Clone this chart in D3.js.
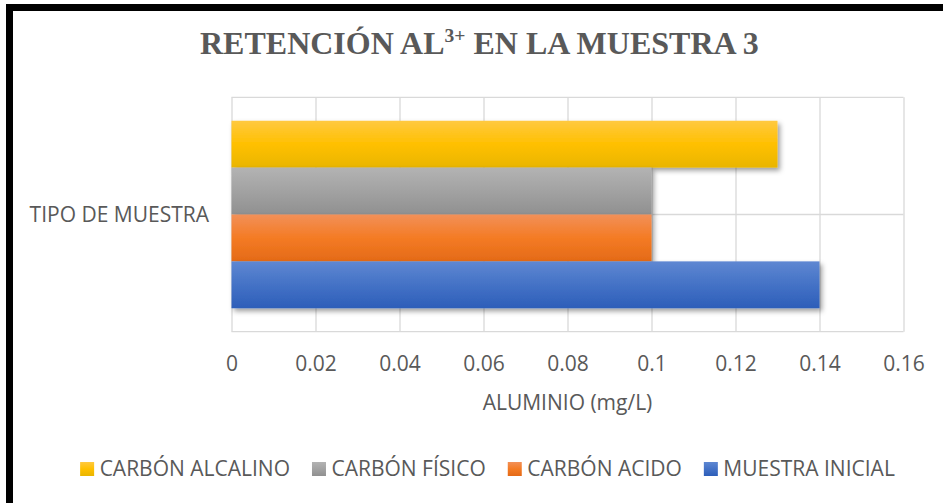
<!DOCTYPE html>
<html>
<head>
<meta charset="utf-8">
<script src="https://cdn.jsdelivr.net/npm/d3@7"></script>
<style>
  html, body { margin: 0; padding: 0; background: #fff; overflow: hidden; }
  svg { display: block; }
</style>
</head>
<body>
<svg id="chart" width="943" height="503"></svg>
<script>
// ---- data ----
const categories = ["TIPO DE MUESTRA"];
const seriesNames = ["CARBÓN ALCALINO", "CARBÓN FÍSICO", "CARBÓN ACIDO", "MUESTRA INICIAL"];
const seriesValues = [0.13, 0.10, 0.10, 0.14];
const xTicks = [0, 0.02, 0.04, 0.06, 0.08, 0.10, 0.12, 0.14, 0.16];
const xTickLabels = ["0", "0.02", "0.04", "0.06", "0.08", "0.1", "0.12", "0.14", "0.16"];
const titleMain = "RETENCIÓN AL";
const titleSup = "3+";
const titleRest = " EN LA MUESTRA 3";
const xAxisTitle = "ALUMINIO (mg/L)";

// ---- styles ----
const gradients = [
  ["#FFC940", "#FFC000", "#E9B500"],
  ["#B3B3B3", "#A2A2A2", "#909090"],
  ["#F29058", "#F47B24", "#E46A17"],
  ["#5E87D2", "#4472C6", "#2D5EB9"]
];
const textColor = "#595959";
const gridColor = "#D9D9D9";
const sansFont = "'Open Sans', sans-serif";

const svg = d3.select("#chart");
const defs = svg.append("defs");
gradients.forEach((g, i) => {
  const lg = defs.append("linearGradient").attr("id", "grad" + i)
    .attr("x1", 0).attr("y1", 0).attr("x2", 0).attr("y2", 1);
  lg.append("stop").attr("offset", "0%").attr("stop-color", g[0]);
  lg.append("stop").attr("offset", "50%").attr("stop-color", g[1]);
  lg.append("stop").attr("offset", "100%").attr("stop-color", g[2]);
});
const f = defs.append("filter").attr("id", "shadow")
  .attr("x", "-5%").attr("y", "-20%").attr("width", "115%").attr("height", "160%");
f.append("feDropShadow").attr("dx", 2.5).attr("dy", 3).attr("stdDeviation", 2.5)
  .attr("flood-color", "#000").attr("flood-opacity", 0.38);

// border (cropped frame)
svg.append("rect").attr("x", 9.5).attr("y", 7.5).attr("width", 1200).attr("height", 1200)
  .attr("fill", "none").attr("stroke", "#000").attr("stroke-width", 7);

// layout
const plotLeft = 231.5, plotRight = 903.5, plotTop = 97.3, plotBottom = 331.7;

const x = d3.scaleLinear().domain([0, 0.16]).range([plotLeft, plotRight]);
const y0 = d3.scaleBand().domain(categories).range([plotTop, plotBottom]).padding(0);
const y1 = d3.scaleBand().domain(seriesNames).range([0, y0.bandwidth()])
  .paddingInner(0).paddingOuter(0.5);

// vertical gridlines
const grid = svg.append("g").attr("transform", `translate(0,${plotBottom})`)
  .call(d3.axisBottom(x).tickValues(xTicks).tickSize(-(plotBottom - plotTop)).tickFormat(""));
grid.select(".domain").remove();
grid.selectAll("line").attr("stroke", gridColor).attr("stroke-width", 1.3);

// horizontal gridlines (category boundaries and centre)
const hLines = [plotTop, (plotTop + plotBottom) / 2, plotBottom];
svg.append("g").selectAll("line").data(hLines).join("line")
  .attr("x1", plotLeft).attr("x2", plotRight)
  .attr("y1", d => d).attr("y2", d => d)
  .attr("stroke", gridColor).attr("stroke-width", 1.3);

// bars
const barsG = svg.append("g");
categories.forEach(cat => {
  seriesNames.forEach((s, i) => {
    barsG.append("rect")
      .attr("x", x(0))
      .attr("y", y0(cat) + y1(s))
      .attr("width", x(seriesValues[i]) - x(0))
      .attr("height", y1.bandwidth())
      .attr("fill", `url(#grad${i})`)
      .attr("filter", "url(#shadow)");
  });
});

// x axis labels
const xAxisG = svg.append("g").attr("transform", `translate(0,${plotBottom})`)
  .call(d3.axisBottom(x).tickValues(xTicks).tickSize(0)
    .tickFormat((d, i) => xTickLabels[i]));
xAxisG.select(".domain").remove();
xAxisG.selectAll("text")
  .attr("y", 371 - plotBottom).attr("dy", null)
  .attr("fill", textColor)
  .style("font-family", sansFont).style("font-size", "21px");

// axis title
svg.append("text").attr("x", (plotLeft + plotRight) / 2).attr("y", 410)
  .attr("text-anchor", "middle").attr("fill", textColor)
  .style("font-family", sansFont).style("font-size", "21px")
  .text(xAxisTitle);

// category label
svg.append("text").attr("x", 209).attr("y", y0(categories[0]) + y0.bandwidth() / 2 + 7.5)
  .attr("text-anchor", "end").attr("fill", textColor)
  .style("font-family", sansFont).style("font-size", "21px")
  .text(categories[0]);

// title
const title = svg.append("text").attr("y", 54)
  .attr("fill", textColor)
  .style("font-family", "'Liberation Serif', 'Times New Roman', serif")
  .style("font-weight", "bold").style("font-size", "31px");
title.append("tspan").text(titleMain);
title.append("tspan").attr("dy", -12).style("font-size", "19px").text(titleSup);
title.append("tspan").attr("dy", 12).text(titleRest);
{
  const bb = title.node().getBBox();
  const targetW = 559, cx = 479.5;
  const s = targetW / bb.width;
  title.attr("transform", `translate(${cx},0) scale(${s},1) translate(${-bb.x - bb.width / 2},0)`);
}

// legend
const legend = svg.append("g");
let lx = 0;
const gap = 22;
seriesNames.forEach((s, i) => {
  const g = legend.append("g");
  g.append("rect").attr("x", 0).attr("y", 462).attr("width", 14).attr("height", 14)
    .attr("fill", `url(#grad${i})`);
  const t = g.append("text").attr("x", 19.5).attr("y", 476).attr("fill", textColor)
    .style("font-family", sansFont).style("font-size", "21px").text(s);
  const w = 19.5 + t.node().getComputedTextLength();
  g.attr("transform", `translate(${lx},0)`);
  lx += w + gap;
});
const totalW = lx - gap;
legend.attr("transform", `translate(${487.5 - totalW / 2},0)`);
</script>
</body>
</html>
